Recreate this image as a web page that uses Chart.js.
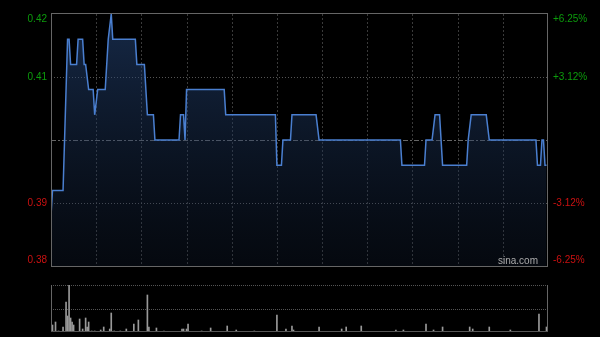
<!DOCTYPE html>
<html>
<head>
<meta charset="utf-8">
<script src="https://cdn.jsdelivr.net/npm/chart.js@4.4.1/dist/chart.umd.min.js"></script>
<style>
  html, body { margin: 0; padding: 0; background: #000; }
  #wrap { position: relative; width: 600px; height: 337px; overflow: hidden; }
  #priceBox { position: absolute; left: 0; top: 0; width: 600px; height: 272px; }
  #volBox { position: absolute; left: 0; top: 278px; width: 600px; height: 59px; }
</style>
</head>
<body>
<div id="wrap">
  <div id="priceBox"><canvas id="priceChart"></canvas></div>
  <div id="volBox"><canvas id="volChart"></canvas></div>
</div>
<script>
// intraday minutes (0 = open, 330 = close) where the price changes
const priceMinutes = [0, 1, 8, 11, 12, 13, 17, 18, 21, 22, 23, 25, 28, 29, 31, 36, 38, 40, 41, 56,
    57, 62, 64, 68, 69, 85, 86, 88, 89, 90, 115, 116, 149, 150, 153, 154, 159, 160, 176, 178,
    232, 233, 248, 249, 253, 255, 258, 260, 276, 277, 279, 289, 291, 322, 323, 325, 326, 327, 328, 329];
const prices = [0.388, 0.392, 0.392, 0.416, 0.416, 0.412, 0.412, 0.416, 0.416, 0.412,
    0.412, 0.408, 0.408, 0.404, 0.408, 0.408, 0.416, 0.420, 0.416, 0.416,
    0.412, 0.412, 0.404, 0.404, 0.400, 0.400, 0.404, 0.404, 0.400, 0.408,
    0.408, 0.404, 0.404, 0.396, 0.396, 0.400, 0.400, 0.404, 0.404, 0.400,
    0.400, 0.396, 0.396, 0.400, 0.400, 0.404, 0.404, 0.396, 0.396, 0.400,
    0.404, 0.404, 0.400, 0.400, 0.396, 0.396, 0.400, 0.400, 0.396, 0.396];

const volMinutes = [0, 1, 3, 5, 8, 10, 11, 12, 13, 14, 15, 19, 21, 23, 24, 25, 27, 29, 33, 35,
    39, 40, 42, 46, 50, 55, 58, 64, 65, 70, 75, 87, 88, 90, 91, 100, 106, 117, 123, 135,
    150, 156, 160, 161, 178, 193, 196, 206, 229, 234, 249, 254, 260, 278, 280, 291, 305, 324, 329, 330];
const volumes = [16, 7, 10, 1, 5, 30, 16, 47, 14, 10, 7, 13, 3, 14, 5, 10, 1, 1, 2, 5,
    3, 19, 1, 1, 3, 8, 12, 37, 5, 4, 1, 3, 3, 3, 8, 1, 4, 6, 2, 1,
    17, 3, 6, 2, 5, 3, 5, 6, 2, 2, 8, 2, 5, 5, 3, 5, 2, 18, 5, 5];

const prevClose = 0.40;
const priceTicks = [0.42, 0.41, 0.39, 0.38];
const pctTicks = ['+6.25%', '+3.12%', '-3.12%', '-6.25%'];
const gridMinutes = [30, 60, 90, 120, 150, 180, 210, 240, 270, 300];

const upColor = '#0c9c0c';
const downColor = '#cc1111';

function line(ctx, x1, y1, x2, y2, color, dash) {
    ctx.save();
    ctx.strokeStyle = color;
    ctx.lineWidth = 1;
    ctx.setLineDash(dash || []);
    ctx.beginPath();
    ctx.moveTo(x1, y1);
    ctx.lineTo(x2, y2);
    ctx.stroke();
    ctx.restore();
}

const priceFrame = {
    id: 'priceFrame',
    beforeDatasetsDraw(chart) {
        const { ctx, chartArea: a, scales: { x, y } } = chart;
        gridMinutes.forEach(m => {
            const px = Math.round(x.getPixelForValue(m)) + 0.5;
            line(ctx, px, a.top, px, a.bottom, '#3a3a3a', [2, 2]);
        });
        [0.41, 0.39].forEach(v => {
            const py = Math.round(y.getPixelForValue(v)) + 0.5;
            line(ctx, a.left, py, a.right, py, '#555', [1, 2]);
        });
        const pc = Math.round(y.getPixelForValue(prevClose)) + 0.5;
        line(ctx, a.left, pc, a.right, pc, '#666', [5, 2, 2, 2]);
    },
    afterDatasetsDraw(chart) {
        const { ctx, chartArea: a, scales: { y } } = chart;
        ctx.save();
        ctx.strokeStyle = '#666';
        ctx.lineWidth = 1;
        ctx.strokeRect(a.left + 0.5, a.top - 0.5, a.right - a.left - 1, a.bottom - a.top + 1);
        ctx.font = '10px "Liberation Sans", Arial, sans-serif';
        ctx.textBaseline = 'middle';
        priceTicks.forEach((v, i) => {
            let py = y.getPixelForValue(v);
            py = Math.min(Math.max(py, a.top + 5), a.bottom - 6);
            ctx.fillStyle = v > prevClose ? upColor : downColor;
            ctx.textAlign = 'right';
            ctx.fillText(v.toFixed(2), a.left - 4, py);
            ctx.textAlign = 'left';
            ctx.fillText(pctTicks[i], a.right + 5, py);
        });
        ctx.fillStyle = '#aaa';
        ctx.textAlign = 'right';
        ctx.fillText('sina.com', a.right - 10, a.bottom - 5);
        ctx.restore();
    }
};

const volFrame = {
    id: 'volFrame',
    beforeDatasetsDraw(chart) {
        const { ctx, chartArea: a } = chart;
        const mid = Math.round((a.top + a.bottom) / 2) + 0.5;
        line(ctx, a.left, a.top + 0.5, a.right, a.top + 0.5, '#555', [1, 1]);
        line(ctx, a.left, mid, a.right, mid, '#555', [1, 1]);
    },
    afterDatasetsDraw(chart) {
        const { ctx, chartArea: a } = chart;
        line(ctx, a.left + 0.5, a.top, a.left + 0.5, a.bottom, '#666');
        line(ctx, a.right - 0.5, a.top, a.right - 0.5, a.bottom, '#666');
        line(ctx, a.left, a.bottom - 0.5, a.right, a.bottom - 0.5, '#555');
    }
};

new Chart(document.getElementById('priceChart'), {
    type: 'line',
    data: {
        datasets: [{
            data: priceMinutes.map((m, i) => ({ x: m, y: prices[i] })),
            borderColor: '#4a7fd0',
            borderWidth: 1.5,
            pointRadius: 0,
            tension: 0,
            fill: 'start',
            backgroundColor: (c) => {
                const a = c.chart.chartArea;
                if (!a) return 'rgba(30,60,110,0.4)';
                const g = c.chart.ctx.createLinearGradient(0, a.top, 0, a.bottom);
                g.addColorStop(0, 'rgba(40,75,130,0.55)');
                g.addColorStop(1, 'rgba(20,35,60,0.25)');
                return g;
            }
        }]
    },
    options: {
        responsive: true,
        maintainAspectRatio: false,
        animation: false,
        layout: { padding: { left: 51, right: 52, top: 14, bottom: 6 } },
        plugins: { legend: { display: false }, tooltip: { enabled: false } },
        scales: {
            x: { type: 'linear', min: 0, max: 330, display: false },
            y: { min: 0.38, max: 0.42, display: false }
        }
    },
    plugins: [priceFrame]
});

new Chart(document.getElementById('volChart'), {
    type: 'bar',
    data: {
        datasets: [{
            data: volMinutes.map((m, i) => ({ x: m, y: volumes[i] })),
            backgroundColor: '#999',
            barThickness: 1
        }]
    },
    options: {
        responsive: true,
        maintainAspectRatio: false,
        animation: false,
        layout: { padding: { left: 51, right: 52, top: 7, bottom: 5 } },
        plugins: { legend: { display: false }, tooltip: { enabled: false } },
        scales: {
            x: { type: 'linear', min: 0, max: 330, offset: false, display: false },
            y: { min: 0, max: 47, display: false }
        }
    },
    plugins: [volFrame]
});
</script>
</body>
</html>
